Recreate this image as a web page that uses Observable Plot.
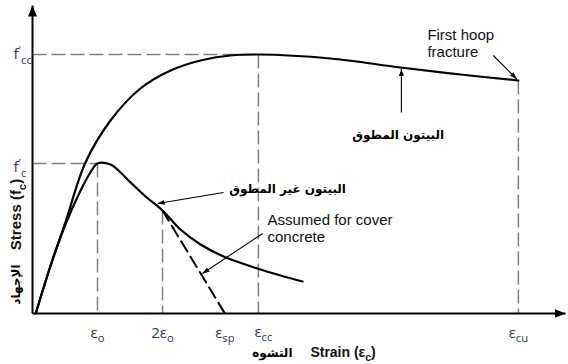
<!DOCTYPE html>
<html><head><meta charset="utf-8">
<script src="https://cdn.jsdelivr.net/npm/d3@7"></script>
<script src="https://cdn.jsdelivr.net/npm/@observablehq/plot@0.6"></script>
<style>body{margin:0;background:#fff} svg{display:block}</style>
</head><body><div id="chart"></div>
<script>
// ---- data (strain in ‰, stress in MPa) ----
const unconfinedStrain = [0.1, 0.55, 1.02, 1.48, 1.78, 2.0, 2.4, 2.71, 3.02, 3.48, 4.0, 4.55, 5.17, 5.88, 6.92, 7.63, 8.31];
const unconfinedStress = [0, 9.4, 17.9, 24.6, 28.2, 30.0, 29.8, 28.2, 26.2, 23.4, 20.6, 16.8, 13.8, 11.4, 9.0, 7.6, 6.4];
const confinedStrain = [0.1, 0.55, 1.02, 1.63, 2.4, 3.32, 4.25, 5.17, 6.09, 6.95, 9.17, 11.32, 13.17, 14.95];
const confinedStress = [0, 9.5, 18.4, 30.2, 38.6, 45.0, 48.6, 50.6, 51.6, 51.8, 51.0, 49.2, 47.8, 46.6];
const coverStrain = [4.0, 5.92];
const coverStress = [20.6, 0];
const xTickValues = [2.0, 4.0, 5.92, 6.95, 14.95];
const xTickLabels = ["ε_{o}", "2ε_{o}", "ε_{sp}", "ε_{cc}", "ε_{cu}"];
const yTickValues = [30.0, 51.8];
const yTickLabels = ["f^{'}_{c}", "f^{'}_{cc}"];
const fc = 30.0, fcc = 51.8, eps0 = 2.0, eps2 = 4.0, epsCC = 6.95, epsCU = 14.95, fCU = 46.6, f2 = 20.6;
const xMax = 16.4, yMax = 61.6;

// annotation texts & arrows
const annoTexts = [
  {x: 12.15, y: 57.2, text: "First hoop\nfracture", kind: "en"},
  {x: 7.23, y: 20.2, text: "Assumed for cover\nconcrete", kind: "en"},
  {x: 11.25, y: 35.6, text: "البيتون المطوق", kind: "ar"},
  {x: 7.85, y: 24.8, text: "البيتون غير المطوق", kind: "ar"}
];
const annoArrows = [
  {x1: 14.18, y1: 51.6, x2: 14.9, y2: 46.9},
  {x1: 11.35, y1: 40.2, x2: 11.35, y2: 48.9},
  {x1: 5.88, y1: 24.2, x2: 3.85, y2: 22.0},
  {x1: 7.08, y1: 16.0, x2: 5.23, y2: 8.0}
];

// ---- helpers ----
const pts = (xs, ys) => xs.map((x, i) => ({x, y: ys[i]}));
function filledArrow(len, wid) {
  return (color) => {
    const m = d3.create("svg:marker")
      .attr("viewBox", `${-len} ${-wid/2} ${len} ${wid}`)
      .attr("markerWidth", len).attr("markerHeight", wid)
      .attr("refX", 0).attr("refY", 0)
      .attr("orient", "auto")
      .attr("markerUnits", "userSpaceOnUse")
      .attr("fill", color).attr("stroke", "none");
    m.append("path").attr("d", `M${-len},${-wid/2}L0,0L${-len},${wid/2}Z`);
    return m.node();
  };
}
const axisHead = filledArrow(11, 9);
const smallHead = filledArrow(7, 5);

const guides = [
  {x1: 0, y1: fc, x2: eps0, y2: fc},
  {x1: 0, y1: fcc, x2: epsCC, y2: fcc},
  {x1: eps0, y1: fc, x2: eps0, y2: 0},
  {x1: eps2, y1: f2, x2: eps2, y2: 0},
  {x1: epsCC, y1: fcc, x2: epsCC, y2: 0},
  {x1: epsCU, y1: fCU, x2: epsCU, y2: 0}
];
const xTicks = xTickValues.map((x, i) => ({x, label: xTickLabels[i]}));
const yTicks = yTickValues.map((y, i) => ({y, label: yTickLabels[i]}));

const tickColor = "#1f3864";
const chart = Plot.plot({
  width: 568, height: 364,
  marginLeft: 32, marginRight: 3, marginTop: 5, marginBottom: 51,
  x: {domain: [0, xMax], axis: null},
  y: {domain: [0, yMax], axis: null},
  marks: [
    Plot.link(guides, {x1: "x1", y1: "y1", x2: "x2", y2: "y2", stroke: "#808080", strokeWidth: 1.5, strokeDasharray: "14,5"}),
    Plot.line(pts(coverStrain, coverStress), {x: "x", y: "y", stroke: "#000", strokeWidth: 2, strokeDasharray: "12,6"}),
    Plot.line(pts(unconfinedStrain, unconfinedStress), {x: "x", y: "y", stroke: "#000", strokeWidth: 2.2, curve: "catmull-rom"}),
    Plot.line(pts(confinedStrain, confinedStress), {x: "x", y: "y", stroke: "#000", strokeWidth: 2.2, curve: "catmull-rom"}),
    Plot.link([{x1: 0, y1: 0, x2: xMax, y2: 0}], {x1: "x1", y1: "y1", x2: "x2", y2: "y2", stroke: "#000", strokeWidth: 2, markerEnd: axisHead}),
    Plot.link([{x1: 0, y1: 0, x2: 0, y2: yMax}], {x1: "x1", y1: "y1", x2: "x2", y2: "y2", stroke: "#000", strokeWidth: 2, markerEnd: axisHead}),
    Plot.link(annoArrows, {x1: "x1", y1: "y1", x2: "x2", y2: "y2", stroke: "#000", strokeWidth: 1.1, markerEnd: smallHead}),
    // tick labels
    Plot.text(xTicks.filter(d => d.x !== epsCC), {x: "x", y: () => 0, text: "label", dy: 24, lineAnchor: "bottom", fontSize: 15, fontFamily: "Open Sans", fill: tickColor}),
    Plot.text(xTicks.filter(d => d.x === epsCC), {x: "x", y: () => 0, text: "label", dy: 23, dx: 5, lineAnchor: "bottom", fontSize: 15, fontFamily: "Open Sans", fill: tickColor}),
    Plot.text(yTicks.filter(d => d.y === fcc), {y: "y", text: "label", frameAnchor: "left", textAnchor: "start", dx: -19, dy: 0, lineAnchor: "middle", fontSize: 15, fontFamily: "Open Sans", fill: tickColor}),
    Plot.text(yTicks.filter(d => d.y === fc), {y: "y", text: "label", frameAnchor: "left", textAnchor: "start", dx: -19, dy: 4, lineAnchor: "middle", fontSize: 15, fontFamily: "Open Sans", fill: tickColor}),
    // annotations
    Plot.text(annoTexts.filter(d => d.kind === "en"), {x: "x", y: "y", text: "text", textAnchor: "start", lineAnchor: "top", lineHeight: 1.15, fontSize: 15, fontFamily: "Liberation Sans, Arial, sans-serif", fill: "#111"}),
    Plot.text(annoTexts.filter(d => d.kind === "ar"), {x: "x", y: "y", text: "text", textAnchor: "middle", lineAnchor: "middle", fontSize: 12, fontWeight: "bold", fontFamily: "DejaVu Sans, sans-serif", fill: "#000"}),
    // axis titles
    Plot.text(["التشوه"], {x: () => 8.0, text: d => d, frameAnchor: "bottom", textAnchor: "end", lineAnchor: "bottom", dy: 43, fontSize: 12, fontWeight: "bold", fontFamily: "DejaVu Sans, sans-serif", fill: "#000"}),
    Plot.text(["Strain (ε_{c})"], {x: () => 8.55, text: d => d, frameAnchor: "bottom", textAnchor: "start", lineAnchor: "bottom", dy: 43, fontSize: 14, fontWeight: "bold", fontFamily: "Liberation Sans, Arial, sans-serif", fill: "#111"}),
    Plot.text(["Stress (f_{c})"], {y: () => 19.8, text: d => d, frameAnchor: "left", rotate: -90, textAnchor: "middle", lineAnchor: "middle", dx: -16, fontSize: 15, fontWeight: "bold", fontFamily: "Liberation Sans, Arial, sans-serif", fill: "#111"}),
    Plot.text(["الإجهاد"], {y: () => 5.8, text: d => d, frameAnchor: "left", rotate: -90, textAnchor: "middle", lineAnchor: "middle", dx: -16, fontSize: 12, fontWeight: "bold", fontFamily: "DejaVu Sans, sans-serif", fill: "#000"})
  ]
});
document.getElementById("chart").appendChild(chart);

// rich text: _{sub} and ^{sup}
function richText(svg) {
  svg.querySelectorAll("text").forEach(t => {
    const s = t.textContent;
    if (!/[_^]\{/.test(s)) return;
    const fs = parseFloat(getComputedStyle(t).fontSize) || 12;
    const parts = [];
    const re = /([_^])\{([^}]*)\}/g;
    let last = 0, m;
    while ((m = re.exec(s))) {
      if (m.index > last) parts.push({t: s.slice(last, m.index), k: 0});
      parts.push({t: m[2], k: m[1] === "_" ? 1 : -1});
      last = re.lastIndex;
    }
    if (last < s.length) parts.push({t: s.slice(last), k: 0});
    while (t.firstChild) t.removeChild(t.firstChild);
    let cur = 0;
    for (const p of parts) {
      const target = p.k === 1 ? 0.3 * fs : p.k === -1 ? -0.35 * fs : 0;
      const ts = document.createElementNS("http://www.w3.org/2000/svg", "tspan");
      if (target !== cur) ts.setAttribute("dy", (target - cur).toFixed(2));
      if (p.k !== 0) ts.setAttribute("font-size", (0.75 * fs).toFixed(2) + "px");
      ts.textContent = p.t;
      t.appendChild(ts);
      cur = target;
    }
  });
}
richText(chart);
</script>
</body></html>
